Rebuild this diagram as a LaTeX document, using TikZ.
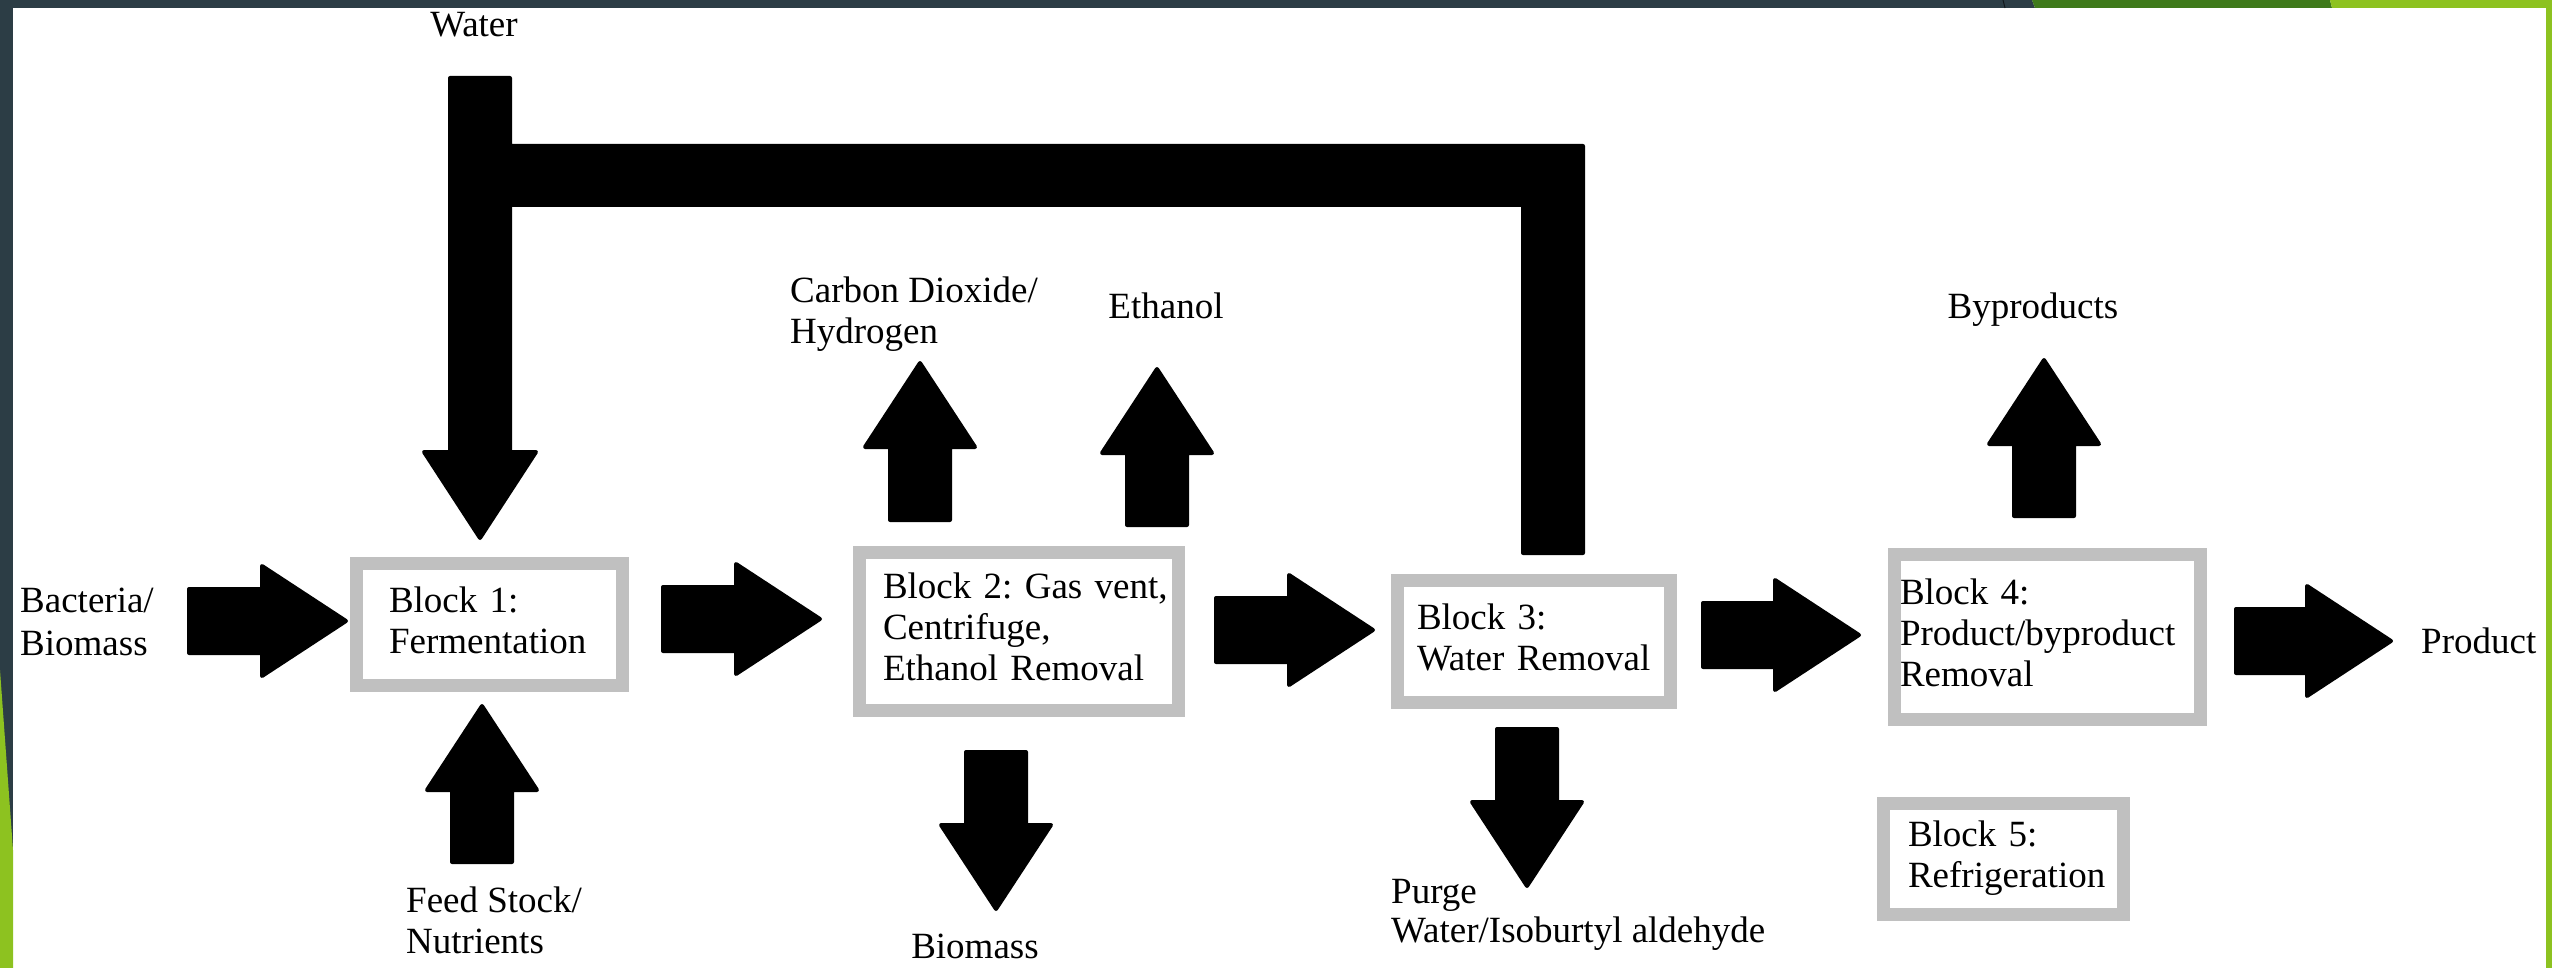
\documentclass[tikz,border=0pt]{standalone}
\usepackage{fontspec}
\setmainfont{Liberation Serif}
\frenchspacing
\definecolor{slate}{HTML}{2C3D45}
\definecolor{dgreen}{HTML}{3F7A1B}
\definecolor{lgreen}{HTML}{8DC220}
\definecolor{boxgray}{HTML}{C0C0C0}
\tikzset{
  lbl/.style={inner sep=0pt, font=\fontsize{37}{41}\selectfont, align=left, anchor=west},
  lblc/.style={lbl, anchor=center, align=center},
  blk/.style={draw=boxgray, line width=13pt, fill=white, inner sep=0pt,
              font=\fontsize{37}{41}\selectfont, align=left},
  barrow/.style={fill=black, draw=black, line width=4pt, line join=round}
}
% block arrows: horizontal (tail x, tip x, centre y), up/down (x, tail y, tip y)
\newcommand{\blkR}[3]{%
  \filldraw[barrow] (#1,#3-32) -- (#2-85,#3-32) -- (#2-85,#3-55) -- (#2-1,#3)
    -- (#2-85,#3+55) -- (#2-85,#3+32) -- (#1,#3+32) -- cycle;}
\newcommand{\blkU}[3]{%
  \filldraw[barrow] (#1-30,#2) -- (#1-30,#3+85) -- (#1-55,#3+85) -- (#1,#3+1)
    -- (#1+55,#3+85) -- (#1+30,#3+85) -- (#1+30,#2) -- cycle;}
\newcommand{\blkD}[3]{%
  \filldraw[barrow] (#1-30,#2) -- (#1-30,#3-85) -- (#1-55,#3-85) -- (#1,#3-1)
    -- (#1+55,#3-85) -- (#1+30,#3-85) -- (#1+30,#2) -- cycle;}
\begin{document}
\begin{tikzpicture}[x=1pt,y=-1pt]
\useasboundingbox (0,0) rectangle (2552,968);
% frame
\fill[white] (0,0) rectangle (2552,968);
\fill[slate] (0,0) -- (2032,0) -- (2035,8) -- (0,8) -- cycle;
\fill[dgreen] (2032,0) -- (2330,0) -- (2332,8) -- (2035,8) -- cycle;
\fill[lgreen] (2330,0) -- (2552,0) -- (2552,8) -- (2332,8) -- cycle;
\draw[black!60!slate, line width=1pt] (2003,0) -- (2005,8);
\fill[lgreen] (2546,0) rectangle (2552,968);
\fill[slate] (0,0) rectangle (13,968);
\fill[lgreen] (0,670) -- (13,850) -- (13,968) -- (0,968) -- cycle;

% recycle / water arrow
\filldraw[barrow] (450,78) -- (510,78) -- (510,146) -- (1583,146) -- (1583,553)
  -- (1523,553) -- (1523,205) -- (510,205) -- (510,452) -- (536,452)
  -- (480,538) -- (424,452) -- (450,452) -- cycle;

% blocks
\node[blk, minimum width=266pt, minimum height=122pt, text width=201pt] (b1) at (489.5,624.5)
  {\strut Block 1:\\\strut Fermentation};
\node[blk, minimum width=319pt, minimum height=158pt, text width=272pt] (b2) at (1019,631.5)
  {\mbox{\strut Block 2: Gas vent,}\\\strut Centrifuge,\\\mbox{\strut Ethanol Removal}};
\node[blk, minimum width=273pt, minimum height=122pt, text width=234pt] (b3) at (1534,641.5)
  {\strut Block 3:\\\mbox{\strut Water Removal}};
\node[blk, minimum width=306pt, minimum height=165pt, text width=295pt] (b4) at (2047.5,637)
  {\strut Block 4:\\\strut Product/byproduct\\\strut Removal};
\node[blk, minimum width=240pt, minimum height=111pt, text width=191pt] (b5) at (2003.5,859)
  {\strut Block 5:\\\strut Refrigeration};

% labels
\node[lblc] (water) at (474,28) {\strut Water};
\node[lbl] (co2) at (790,315) {\strut Carbon Dioxide/\\\strut Hydrogen};
\node[lblc] (eth) at (1166,310) {\strut Ethanol};
\node[lblc] (byp) at (2033,310) {\strut Byproducts};
\node[lbl, font=\fontsize{37}{43}\selectfont] (bact) at (20,625) {\strut Bacteria/\\\strut Biomass};
\node[lbl] (prod) at (2421,645) {\strut Product};
\node[lbl] (feed) at (406,925) {\strut Feed Stock/\\\strut Nutrients};
\node[lblc] (biom) at (975,950) {\strut Biomass};
\node[lbl, font=\fontsize{37}{39}\selectfont] (purge) at (1391,915) {\strut Purge\\\strut Water/Isoburtyl aldehyde};

% horizontal block arrows
\blkR{189}{347}{621}
\blkR{663}{821}{619}
\blkR{1216}{1374}{630}
\blkR{1703}{1860}{635}
\blkR{2236}{2392}{641}
% vertical block arrows
\blkU{920}{520}{362}
\blkU{1157}{525}{368}
\blkU{2044}{516}{359}
\blkU{482}{862}{705}
\blkD{996}{752}{910}
\blkD{1527}{729}{887}
\end{tikzpicture}
\end{document}
